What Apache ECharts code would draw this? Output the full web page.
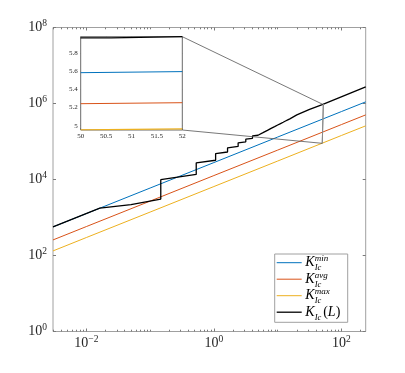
<!DOCTYPE html>
<html>
<head>
<meta charset="utf-8">
<script src="https://cdn.jsdelivr.net/npm/echarts@6/dist/echarts.min.js"></script>
<style>
  html, body { margin: 0; padding: 0; background: #fff; }
  #chart { width: 405px; height: 373px; }
</style>
</head>
<body>
<div id="chart"></div>
<script>
// straight lines, log-log
var lineX = [0.003, 0.01, 0.1, 1, 10, 100, 240];
var kMin = [566, 1270, 5960, 27900, 131000, 614000, 1104000];
var kAvg = [257, 577, 2700, 12700, 59400, 279000, 501000];
var kMax = [132, 297, 1390, 6530, 30600, 144000, 258000];

// stepped curve K_Ic(L)
var kLx = [0.003, 0.01626, 0.0501, 0.1469, 0.1469, 0.5284, 0.5284, 1.064, 1.064,
  1.637, 1.637, 2.399, 2.399, 3.162, 3.162, 4.027, 4.027, 4.92, 4.92, 5.888, 5.888,
  6.902, 6.902, 7.889, 7.889, 8.954, 8.954, 10, 10, 11.09, 11.09, 12.19, 12.19,
  13.27, 13.27, 14.39, 14.39, 15.52, 15.52, 19.95, 31.62, 50, 50.6, 50.6, 52, 240];
var kLy = [566, 1762, 2188, 3048, 9886, 13610, 27540, 32140, 48190,
  52970, 68080, 74130, 92470, 98170, 115300, 121600, 140000, 146200, 164100, 170600, 189700,
  196300, 215300, 221800, 239300, 246000, 264900, 271600, 289700, 296500, 314800, 321400, 339600,
  345900, 363100, 369800, 387300, 393600, 412100, 500000, 700000, 933300, 937600, 957100, 963800, 2754000];

// inset (log10 K over 50..52)
var insetX = [50, 52];
var insetMin = [5.586, 5.598];
var insetAvg = [5.243, 5.254];
var insetMax = [4.954, 4.965];
var insetLX = [50, 50.6, 50.6, 52];
var insetLY = [5.970, 5.972, 5.981, 5.984];
var insetYRange = [4.952, 5.984];

// ticks
var xLabelTicks = [0.01, 1, 100];
var yLabelTicks = [1, 100, 1e4, 1e6, 1e8];
var insetXTicks = [50, 50.5, 51, 51.5, 52];
var insetYTicks = [5, 5.2, 5.4, 5.6, 5.8];
var xMinorTicks = [];
for (var k = -3; k <= 2; k++) {
  for (var m = 1; m <= 9; m++) {
    var v = +(m * Math.pow(10, k)).toPrecision(3);
    if (v >= 0.003 && v <= 240 && xLabelTicks.indexOf(v) < 0) xMinorTicks.push(v);
  }
}

var colors = ['#0072BD', '#D95319', '#EDB120', '#000000'];
var serif = '"Liberation Serif", "DejaVu Serif", serif';

function zip(a, b) {
  return a.map(function (x, i) { return [x, b[i]]; });
}

function powLabel(value) {
  var e = Math.round(Math.log(value) / Math.LN10);
  return '{b|10}{e|' + String(e).replace('-', '\u2212') + '}';
}

var powRich = {
  b: { fontSize: 14, fontFamily: serif, color: '#262626', lineHeight: 18 },
  e: { fontSize: 9.5, fontFamily: serif, color: '#262626', verticalAlign: 'top', lineHeight: 11 }
};

function logX(pos, ticks, len, labels) {
  return {
    type: 'log', gridIndex: 0, min: 0.003, max: 240, position: pos,
    axisLine: { show: false },
    axisTick: { show: true, inside: true, length: len, customValues: ticks,
      lineStyle: { color: '#7a7a7a', width: 1 } },
    axisLabel: labels ? { show: true, customValues: xLabelTicks, formatter: powLabel,
      rich: powRich, margin: 3 } : { show: false },
    splitLine: { show: false }
  };
}

function logY(pos, labels) {
  return {
    type: 'log', gridIndex: 0, min: 1, max: 1e8, position: pos,
    axisLine: { show: false },
    axisTick: { show: true, inside: true, length: 3, customValues: yLabelTicks,
      lineStyle: { color: '#7a7a7a', width: 1 } },
    axisLabel: labels ? { show: true, customValues: yLabelTicks, formatter: powLabel,
      rich: powRich, margin: 6 } : { show: false },
    splitLine: { show: false }
  };
}

var insetLabel = { fontSize: 7, fontFamily: serif, color: '#262626' };

function insetX_(pos, labels) {
  return {
    type: 'value', gridIndex: 1, min: 50, max: 52, position: pos,
    axisLine: { show: false, onZero: false },
    axisTick: { show: true, inside: true, length: 2, customValues: insetXTicks,
      lineStyle: { color: '#666' } },
    axisLabel: labels ? Object.assign({ show: true, customValues: insetXTicks, margin: 3 }, insetLabel) : { show: false },
    splitLine: { show: false }
  };
}

function insetY_(pos, labels) {
  return {
    type: 'value', gridIndex: 1, min: insetYRange[0], max: insetYRange[1], position: pos,
    axisLine: { show: false, onZero: false },
    axisTick: { show: true, inside: true, length: 2, customValues: insetYTicks,
      lineStyle: { color: '#666' } },
    axisLabel: labels ? Object.assign({ show: true, customValues: insetYTicks, margin: 3,
      formatter: function (v) { return String(+v.toFixed(1)); } }, insetLabel) : { show: false },
    splitLine: { show: false }
  };
}

function line(name, data, color, width, xi, yi, z) {
  return {
    name: name, type: 'line', data: data, xAxisIndex: xi, yAxisIndex: yi,
    symbol: 'none', silent: true, animation: false, z: z || 2,
    lineStyle: { color: color, width: width }
  };
}

var rectLo = Math.pow(10, insetYRange[0]);
var rectHi = Math.pow(10, insetYRange[1]);

var chartDom = document.getElementById('chart');
var myChart = echarts.init(chartDom, null, { renderer: 'canvas' });

var option = {
  animation: false,
  backgroundColor: '#fff',
  grid: [
    { left: 53, top: 27.5, width: 312.7, height: 304, show: true,
      borderColor: '#a0a0a0', borderWidth: 1 },
    { left: 80.7, top: 36.7, width: 101.6, height: 93.3, show: true,
      borderColor: '#6a6a6a', borderWidth: 1, backgroundColor: '#fff', z: 5 }
  ],
  xAxis: [
    logX('bottom', xLabelTicks, 3, true),
    logX('bottom', xMinorTicks, 1.8, false),
    logX('top', xLabelTicks, 3, false),
    logX('top', xMinorTicks, 1.8, false),
    insetX_('bottom', true),
    insetX_('top', false)
  ],
  yAxis: [
    logY('left', true),
    logY('right', false),
    insetY_('left', true),
    insetY_('right', false)
  ],
  series: [
    line('K_Ic^min', zip(lineX, kMin), colors[0], 1, 0, 0),
    line('K_Ic^avg', zip(lineX, kAvg), colors[1], 1, 0, 0),
    line('K_Ic^max', zip(lineX, kMax), colors[2], 1, 0, 0),
    line('K_Ic(L)', zip(kLx, kLy), colors[3], 1.3, 0, 0, 3),
    line('zoom box', [[50, rectLo], [52, rectLo], [52, rectHi], [50, rectHi], [50, rectLo]],
      '#8a8a8a', 1, 0, 0, 4),
    line('inset min', zip(insetX, insetMin), colors[0], 1, 4, 2, 6),
    line('inset avg', zip(insetX, insetAvg), colors[1], 1, 4, 2, 6),
    line('inset max', zip(insetX, insetMax), colors[2], 1.2, 4, 2, 6),
    line('inset L', zip(insetLX, insetLY), colors[3], 1.3, 4, 2, 6)
  ]
};

option && myChart.setOption(option);

// connectors between inset and zoom box
var pInTop = myChart.convertToPixel({ xAxisIndex: 4, yAxisIndex: 2 }, [52, insetYRange[1]]);
var pInBot = myChart.convertToPixel({ xAxisIndex: 4, yAxisIndex: 2 }, [52, insetYRange[0]]);
var pBoxTop = myChart.convertToPixel({ xAxisIndex: 0, yAxisIndex: 0 }, [50, rectHi]);
var pBoxBot = myChart.convertToPixel({ xAxisIndex: 0, yAxisIndex: 0 }, [50, rectLo]);

var graphics = [
  { type: 'line', z: 10, silent: true,
    shape: { x1: pInTop[0], y1: pInTop[1], x2: pBoxTop[0], y2: pBoxTop[1] },
    style: { stroke: '#555', lineWidth: 0.8 } },
  { type: 'line', z: 10, silent: true,
    shape: { x1: pInBot[0], y1: pInBot[1], x2: pBoxBot[0], y2: pBoxBot[1] },
    style: { stroke: '#555', lineWidth: 0.8 } }
];

// legend
var legX = 274.7, legY = 254, legW = 73, legH = 68.3;
var legSups = ['min', 'avg', 'max', null];
graphics.push({ type: 'rect', z: 20, silent: true,
  shape: { x: legX, y: legY, width: legW, height: legH },
  style: { fill: '#fff', stroke: '#a0a0a0', lineWidth: 1 } });
for (var i = 0; i < 4; i++) {
  var yy = 262.7 + i * 16.5;
  graphics.push({ type: 'line', z: 21, silent: true,
    shape: { x1: legX + 2, y1: yy, x2: legX + 27, y2: yy },
    style: { stroke: colors[i], lineWidth: i === 3 ? 1.3 : 1 } });
  graphics.push({ type: 'text', z: 21, silent: true,
    style: { text: 'K', x: legX + 30.5, y: yy, fill: '#000',
      font: 'italic 14px ' + serif, verticalAlign: 'middle', textVerticalAlign: 'middle' } });
  graphics.push({ type: 'text', z: 21, silent: true,
    style: { text: 'Ic', x: legX + 40, y: yy + 5.2, fill: '#000',
      font: 'italic 8.5px ' + serif, verticalAlign: 'middle', textVerticalAlign: 'middle' } });
  if (legSups[i]) {
    graphics.push({ type: 'text', z: 21, silent: true,
      style: { text: legSups[i], x: legX + 40, y: yy - 3.8, fill: '#000',
        font: 'italic 9px ' + serif, verticalAlign: 'middle', textVerticalAlign: 'middle' } });
  } else {
    graphics.push({ type: 'text', z: 21, silent: true,
      style: { text: '{p|(}{l|L}{p|)}', x: legX + 48.5, y: yy, fill: '#000',
        verticalAlign: 'middle', textVerticalAlign: 'middle',
        rich: { p: { fontSize: 14, fontFamily: serif }, l: { fontSize: 14, fontFamily: serif, fontStyle: 'italic' } } } });
  }
}

myChart.setOption({ graphic: graphics });
</script>
</body>
</html>
